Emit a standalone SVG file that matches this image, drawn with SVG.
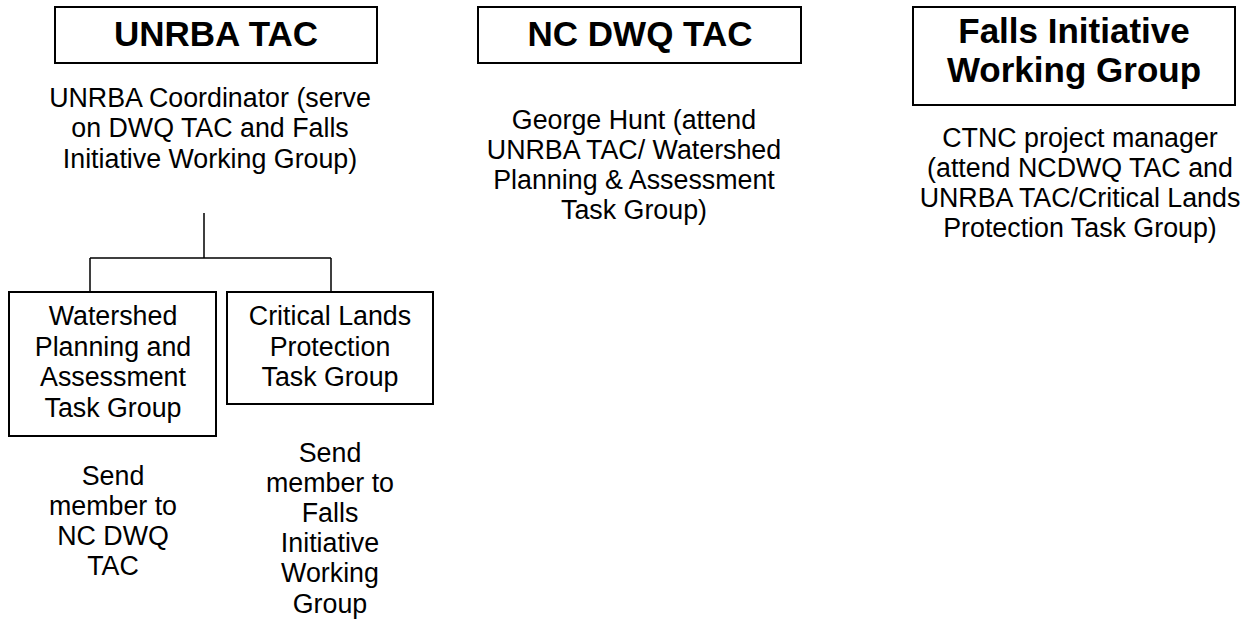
<svg xmlns="http://www.w3.org/2000/svg" width="1259" height="622" viewBox="0 0 1259 622">
<style>
.box{fill:#fff;stroke:#000;stroke-width:2}
.title{font-family:"Liberation Sans",Arial,sans-serif;font-weight:bold;font-size:35px;text-anchor:middle;fill:#000}
.body{font-family:"Liberation Sans",Arial,sans-serif;font-size:26.8px;text-anchor:middle;fill:#000}
.conn{fill:none;stroke:#000;stroke-width:1.5}
</style>
<rect width="1259" height="622" fill="#fff"/>
<g id="connectors">
<path class="conn" d="M204,213 V258 M90,258 H331 M90,258 V292 M331,258 V292"/>
</g>
<g id="unrba-tac">
<rect class="box" x="55" y="7" width="322" height="56"/>
<text class="title" x="216" y="46">UNRBA TAC</text>
</g>
<g id="unrba-coordinator">
<text class="body" x="210" y="107">UNRBA Coordinator (serve</text>
<text class="body" x="210" y="137">on DWQ TAC and Falls</text>
<text class="body" x="210" y="168">Initiative Working Group)</text>
</g>
<g id="nc-dwq-tac">
<rect class="box" x="478" y="7" width="323" height="56"/>
<text class="title" x="640" y="46">NC DWQ TAC</text>
</g>
<g id="george-hunt">
<text class="body" x="634" y="129">George Hunt (attend</text>
<text class="body" x="634" y="159">UNRBA TAC/ Watershed</text>
<text class="body" x="634" y="189">Planning &amp; Assessment</text>
<text class="body" x="634" y="219">Task Group)</text>
</g>
<g id="falls-initiative">
<rect class="box" x="913" y="7" width="322" height="98"/>
<text class="title" x="1074" y="43">Falls Initiative</text>
<text class="title" x="1074" y="82">Working Group</text>
</g>
<g id="ctnc-manager">
<text class="body" x="1080" y="147">CTNC project manager</text>
<text class="body" x="1080" y="177">(attend NCDWQ TAC and</text>
<text class="body" x="1080" y="207">UNRBA TAC/Critical Lands</text>
<text class="body" x="1080" y="237">Protection Task Group)</text>
</g>
<g id="watershed-task-group">
<rect class="box" x="9" y="292" width="207" height="144"/>
<text class="body" x="113" y="325">Watershed</text>
<text class="body" x="113" y="356">Planning and</text>
<text class="body" x="113" y="386">Assessment</text>
<text class="body" x="113" y="417">Task Group</text>
</g>
<g id="critical-lands-task-group">
<rect class="box" x="227" y="292" width="206" height="112"/>
<text class="body" x="330" y="325">Critical Lands</text>
<text class="body" x="330" y="356">Protection</text>
<text class="body" x="330" y="386">Task Group</text>
</g>
<g id="send-nc-dwq">
<text class="body" x="113" y="485">Send</text>
<text class="body" x="113" y="515">member to</text>
<text class="body" x="113" y="545">NC DWQ</text>
<text class="body" x="113" y="575">TAC</text>
</g>
<g id="send-falls">
<text class="body" x="330" y="462">Send</text>
<text class="body" x="330" y="492">member to</text>
<text class="body" x="330" y="522">Falls</text>
<text class="body" x="330" y="552">Initiative</text>
<text class="body" x="330" y="582">Working</text>
<text class="body" x="330" y="613">Group</text>
</g>
</svg>
